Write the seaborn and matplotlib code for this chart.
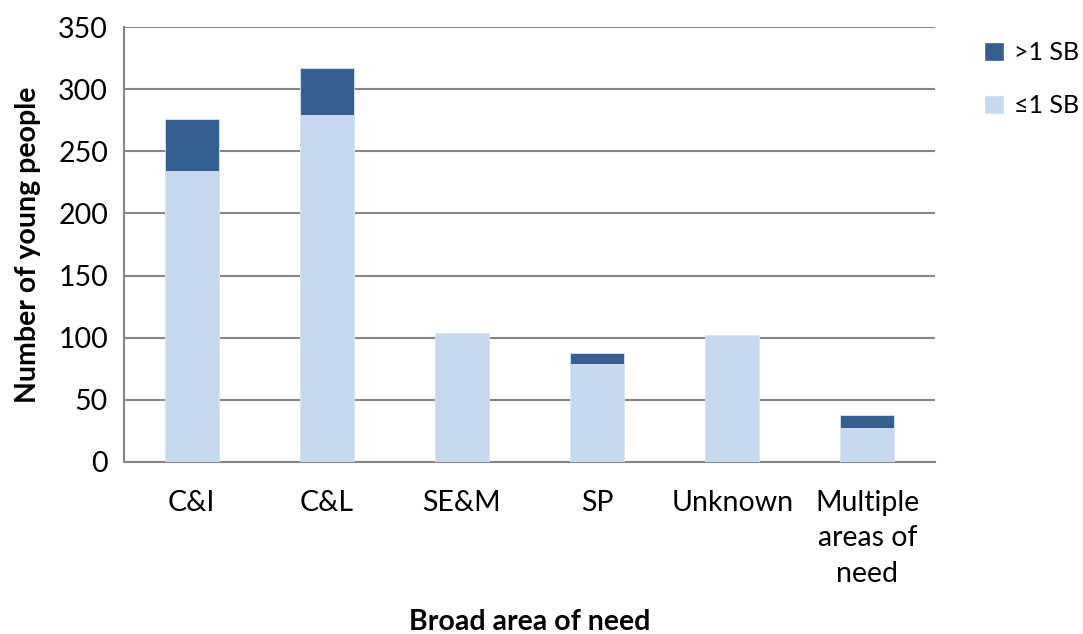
import matplotlib
matplotlib.use("Agg")
import matplotlib.pyplot as plt
from matplotlib.ticker import FixedLocator, MultipleLocator
from matplotlib.patches import Patch
import seaborn as sns
import pandas as pd
import numpy as np

# Young people by broad area of need, split by number of schools/settings
categories = ["C&I", "C&L", "SE&M", "SP", "Unknown", "Multiple\nareas of\nneed"]
le1_sb = [234, 279, 104, 79, 102, 27]
gt1_sb = [42, 38, 0, 9, 0, 11]

DARK = "#355F91"
LIGHT = "#C6D9F0"
GRID = "#868686"
TEXT = "#000000"

sns.set_theme(style="white")
plt.rcParams["font.family"] = ["Lato", "DejaVu Sans"]
plt.rcParams["text.color"] = TEXT
plt.rcParams["axes.labelcolor"] = TEXT
plt.rcParams["xtick.color"] = TEXT
plt.rcParams["ytick.color"] = TEXT

df = pd.DataFrame({
    "area": categories,
    "le1": le1_sb,
    "total": np.array(le1_sb) + np.array(gt1_sb),
})

fig = plt.figure(figsize=(10.83, 6.34), dpi=100)
ax = fig.add_axes([124 / 1083, 1 - 462 / 634, (935 - 124) / 1083, (462 - 27) / 634])

# Stacked bars: full height in dark, lower segment overlaid in light
sns.barplot(data=df, x="area", y="total", color=DARK, width=0.4,
            saturation=1, ax=ax, zorder=3, edgecolor="#DCE6F2", linewidth=0.6)
sns.barplot(data=df, x="area", y="le1", color=LIGHT, width=0.4,
            saturation=1, ax=ax, zorder=4, edgecolor="#DCE6F2", linewidth=0.6)

ax.set_xlim(-0.5, len(categories) - 0.5)
ax.set_ylim(0, 350)
ax.yaxis.set_major_locator(MultipleLocator(50))
ax.yaxis.grid(True, color=GRID, linewidth=1.5, zorder=0)
ax.set_axisbelow(True)

for side in ["top", "right"]:
    ax.spines[side].set_visible(False)
for side in ["left", "bottom"]:
    ax.spines[side].set_color(GRID)
    ax.spines[side].set_linewidth(1.5)

# Category labels centred, tick marks at category boundaries
ax.tick_params(axis="x", which="major", length=0, pad=20, labelsize=20.5,
               labelcolor=TEXT)
ax.xaxis.set_minor_locator(FixedLocator(np.arange(0.5, len(categories), 1.0)))
ax.tick_params(axis="x", which="minor", length=8, width=1.5, color=GRID,
               direction="out")
ax.tick_params(axis="y", which="major", length=7, width=1.5, color=GRID,
               direction="inout", labelsize=20.5, pad=8, labelcolor=TEXT)
for lbl in ax.get_xticklabels():
    lbl.set_verticalalignment("top")
    lbl.set_linespacing(1.45)

ax.set_xlabel("Broad area of need", fontsize=20.5, fontweight="bold",
              labelpad=16, color=TEXT)
ax.set_ylabel("Number of young people", fontsize=20.5, fontweight="bold",
              labelpad=12, color=TEXT)

handles = [Patch(facecolor=DARK, label=">1 SB"),
           Patch(facecolor=LIGHT, label="\u22641 SB")]
fig.legend(handles=handles, loc="upper left", bbox_to_anchor=(974 / 1083, 1 - 31 / 634),
           frameon=False, fontsize=18, handlelength=0.8, handleheight=0.8,
           handletextpad=0.4, labelspacing=1.2, borderaxespad=0)

fig.savefig("out.png", dpi=100)
